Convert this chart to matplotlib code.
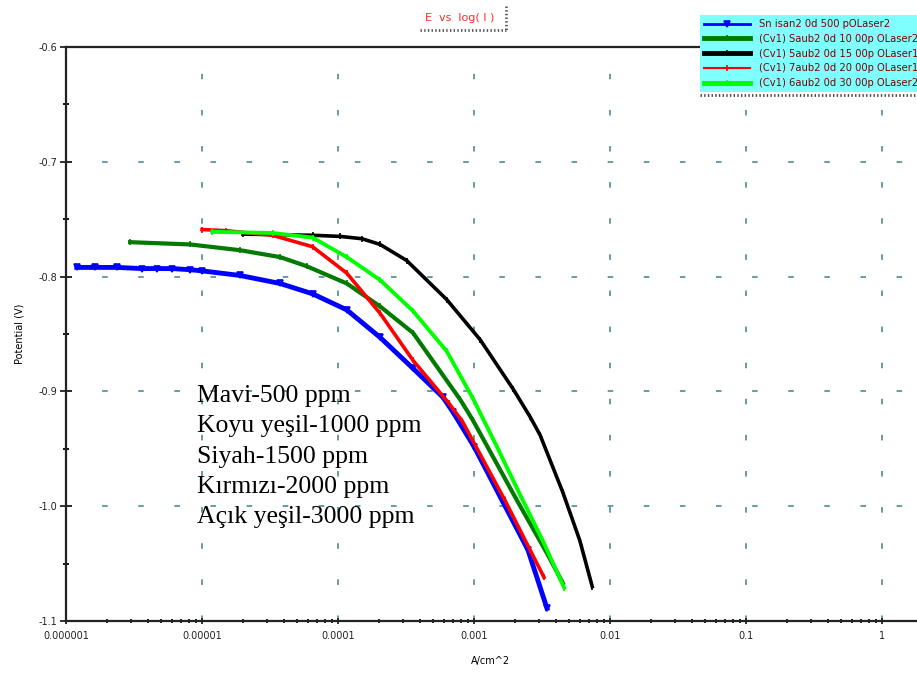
import matplotlib.pyplot as plt
from matplotlib.lines import Line2D
from matplotlib.ticker import LogLocator, MultipleLocator, FuncFormatter, NullFormatter
import numpy as np

plt.rcParams['font.family'] = ['DejaVu Sans']
plt.rcParams['lines.scale_dashes'] = False

# -------------------------------------------------
# katodik polarizasyon egrileri: akim yogunlugu (A/cm^2), potansiyel (V)
# -------------------------------------------------
i_500 = [1.2e-6, 1.63e-6, 2.37e-6, 3.6e-6, 4.7e-6, 6.0e-6, 8.2e-6, 1.0e-5, 1.9e-5,
         3.75e-5, 6.5e-5, 1.16e-4, 2.04e-4, 3.56e-4, 5.9e-4, 7.0e-4, 1.0e-3,
         1.61e-3, 2.49e-3, 3.44e-3]
e_500 = [-0.792, -0.792, -0.792, -0.793, -0.793, -0.793, -0.794, -0.795, -0.799,
         -0.806, -0.815, -0.829, -0.853, -0.880, -0.905, -0.918, -0.948,
         -0.995, -1.038, -1.089]

i_1000 = [2.96e-6, 8.2e-6, 1.9e-5, 3.75e-5, 5.9e-5, 1.16e-4, 2.04e-4, 3.56e-4,
          7.9e-4, 9.8e-4, 2.07e-3, 3.44e-3, 4.5e-3]
e_1000 = [-0.770, -0.772, -0.777, -0.783, -0.791, -0.806, -0.826, -0.849,
          -0.907, -0.925, -0.995, -1.041, -1.067]

i_1500 = [2.0e-5, 6.5e-5, 1.04e-4, 1.5e-4, 2.04e-4, 3.2e-4, 6.3e-4, 1.11e-3,
          1.94e-3, 2.58e-3, 3.06e-3, 4.5e-3, 6.0e-3, 7.4e-3]
e_1500 = [-0.763, -0.764, -0.765, -0.767, -0.772, -0.786, -0.820, -0.855,
          -0.898, -0.922, -0.938, -0.988, -1.030, -1.070]

i_2000 = [1.0e-5, 1.5e-5, 3.3e-5, 6.5e-5, 1.16e-4, 2.04e-4, 3.56e-4, 6.5e-4,
          8.2e-4, 1.69e-3, 2.58e-3, 3.27e-3]
e_2000 = [-0.759, -0.760, -0.764, -0.774, -0.797, -0.832, -0.873, -0.910,
          -0.926, -0.995, -1.038, -1.062]

i_3000 = [1.19e-5, 3.3e-5, 6.5e-5, 1.16e-4, 2.04e-4, 3.56e-4, 6.3e-4, 9.8e-4,
          1.5e-3, 2.18e-3, 3.2e-3, 4.6e-3]
e_3000 = [-0.761, -0.762, -0.766, -0.783, -0.803, -0.830, -0.865, -0.906,
          -0.950, -0.990, -1.030, -1.071]

legend_labels = ['Sn isan2 0d 500 pOLaser2',
                 '(Cv1) Saub2 0d 10 00p OLaser2',
                 '(Cv1) 5aub2 0d 15 00p OLaser1',
                 '(Cv1) 7aub2 0d 20 00p OLaser1',
                 '(Cv1) 6aub2 0d 30 00p OLaser2']

notes = ['Mavi-500 ppm', 'Koyu yeşil-1000 ppm', 'Siyah-1500 ppm',
         'Kırmızı-2000 ppm', 'Açık yeşil-3000 ppm']

xticks = [1e-6, 1e-5, 1e-4, 1e-3, 1e-2, 1e-1, 1]
yticks = [-0.6, -0.7, -0.8, -0.9, -1.0, -1.1]

# renk, isaret, cizgi kalinligi, isaret boyu, lejanttaki kalinlik
series = [
    (i_500, e_500, '#0000ff', 'v', 3.5, 4, 2.0),
    (i_1000, e_1000, '#007a00', '|', 3.0, 4, 3.5),
    (i_1500, e_1500, '#000000', '|', 2.6, 4, 3.5),
    (i_2000, e_2000, '#ff0000', '|', 2.6, 5, 1.5),
    (i_3000, e_3000, '#00ff00', '|', 2.8, 4, 3.5),
]

# -------------------------------------------------
# cizim
# -------------------------------------------------
W, H = 917, 676
fig = plt.figure(figsize=(W / 100, H / 100), dpi=100)
ax = fig.add_axes([66 / W, 1 - 621 / H, (W - 66) / W, (621 - 47) / H])

handles = []
for i_vals, e_vals, col, mk, lw, ms, _ in series:
    ln, = ax.plot(i_vals, e_vals, color=col, lw=lw, marker=mk, ms=ms,
                  mew=1.2, solid_joinstyle='round', zorder=3)
    handles.append(ln)

ax.set_xscale('log')
ax.set_xlim(1e-6, 10 ** 0.257)
ax.set_ylim(-1.1, -0.6)

ax.xaxis.set_major_locator(LogLocator(base=10))
ax.xaxis.set_minor_locator(LogLocator(base=10, subs=np.arange(2, 10)))
ax.xaxis.set_minor_formatter(NullFormatter())
ax.set_xticks(xticks)
ax.xaxis.set_major_formatter(FuncFormatter(
    lambda v, p: np.format_float_positional(v, trim='-')))
ax.set_yticks(yticks)
ax.yaxis.set_minor_locator(MultipleLocator(0.05))
ax.yaxis.set_major_formatter(FuncFormatter(lambda v, p: f'{v:.1f}'))

ax.tick_params(axis='both', which='major', labelsize=7, labelcolor='#222222',
               width=1.3, color='#222222')
ax.tick_params(axis='y', which='major', direction='inout', length=8, pad=2)
ax.tick_params(axis='y', which='minor', direction='inout', length=5, width=1.3)
ax.tick_params(axis='x', which='major', direction='inout', length=5, pad=5)
ax.tick_params(axis='x', which='minor', direction='inout', length=3, width=1.2)

for side in ['left', 'bottom', 'top']:
    ax.spines[side].set_linewidth(1.6)
    ax.spines[side].set_color('#222222')
ax.spines['right'].set_visible(False)

ax.grid(which='major', color='#4d8c8c', lw=1.2, linestyle=(0, (4, 22)))

ax.set_ylabel('Potential (V)', fontsize=7, labelpad=10)
fig.text(490 / W, 1 - 661 / H, 'A/cm^2', fontsize=7, ha='center', va='center')

# baslik
fig.text(460 / W, 1 - 18 / H, 'E  vs  log( I )', fontsize=8, color='#ff2a2a',
         ha='center', va='center')
fig.add_artist(Line2D([420 / W, 506 / W], [1 - 30 / H, 1 - 30 / H],
                      transform=fig.transFigure, color='#555555', lw=2, ls=':'))
fig.add_artist(Line2D([506 / W, 506 / W], [1 - 6 / H, 1 - 30 / H],
                      transform=fig.transFigure, color='#555555', lw=2, ls=':'))

# lejant
leg = fig.legend(handles, legend_labels, loc='upper left',
                 bbox_to_anchor=(700 / W, 1 - 15 / H), frameon=True,
                 facecolor='#80ffff', edgecolor='none', fancybox=False,
                 framealpha=1, fontsize=7.2, labelcolor='#800000',
                 handlelength=4.6, handletextpad=0.9, labelspacing=0.48,
                 borderpad=0.4, borderaxespad=0, numpoints=1)
leg.set_zorder(5)
for lg_line, s in zip(leg.get_lines(), series):
    lg_line.set_linewidth(s[6])
fig.add_artist(Line2D([700 / W, 1.0], [1 - 95 / H, 1 - 95 / H],
                      transform=fig.transFigure, color='#444444', lw=2, ls=':',
                      zorder=6))

# konsantrasyon aciklamasi
for k, txt in enumerate(notes):
    fig.text(197 / W, 1 - (402 + 30.3 * k) / H, txt, fontsize=18.5,
             family='Liberation Serif', color='black', va='baseline')

fig.savefig('out.png', dpi=100)
